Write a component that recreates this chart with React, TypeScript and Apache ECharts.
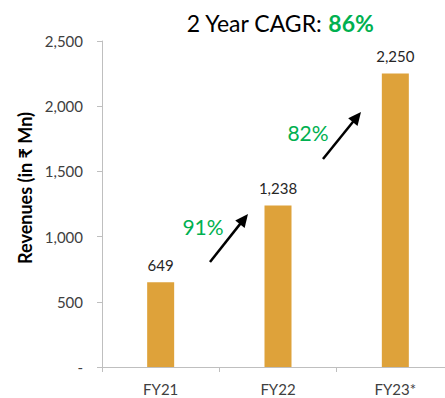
import React, { useEffect, useRef } from "react";
import * as echarts from "echarts";

const categories = ["FY21", "FY22", "FY23*"];
const revenues = [649, 1238, 2250];
const growthLabels = ["91%", "82%"];
const cagrLabel = "86%";
const yAxisTitle = "Revenues (in ₹ Mn)";

const FONT = "Lato, 'Open Sans', sans-serif";

export default function App() {
  const ref = useRef<HTMLDivElement>(null);
  useEffect(() => {
    if (!ref.current) return;
    const chart = echarts.init(ref.current, undefined, { renderer: "svg" });
    const option: any = {
      animation: false,
      textStyle: { fontFamily: FONT },
      title: {
        text: "{a|2 Year CAGR: }{b|" + cagrLabel + "}",
        left: 275,
        textAlign: "center",
        top: 6,
        textStyle: {
          fontWeight: "normal",
          rich: {
            a: { fontSize: 23, color: "#000", fontWeight: "normal", fontFamily: FONT },
            b: { fontSize: 23, color: "#00B050", fontWeight: "bold", fontFamily: FONT },
          },
        },
      },
      grid: { left: 102, right: 6, top: 41, bottom: 31, containLabel: false },
      xAxis: {
        type: "category",
        data: categories,
        axisLine: { lineStyle: { color: "#bfbfbf" } },
        axisTick: { show: true, length: 5, lineStyle: { color: "#bfbfbf" } },
        axisLabel: { color: "#404040", fontSize: 15, margin: 14, fontFamily: FONT },
      },
      yAxis: {
        type: "value",
        min: 0,
        max: 2500,
        interval: 500,
        axisLine: { show: true, lineStyle: { color: "#bfbfbf" } },
        axisTick: { show: true, inside: false, length: 5, lineStyle: { color: "#bfbfbf" } },
        splitLine: { show: false },
        axisLabel: {
          color: "#404040",
          fontSize: 15,
          margin: 19,
          fontFamily: FONT,
          formatter: (v: number) => (v === 0 ? "-" : v.toLocaleString("en-US")),
        },
      },
      series: [
        {
          type: "bar",
          data: revenues,
          barWidth: 27,
          itemStyle: { color: "#DEA23A" },
          label: {
            show: true,
            position: "top",
            distance: 10,
            fontSize: 15,
            color: "#262626",
            fontFamily: FONT,
            formatter: (p: any) => Number(p.value).toLocaleString("en-US"),
          },
        },
      ],
    };
    chart.setOption(option);

    const arrows = [
      { x1: 210, y1: 262, x2: 248, y2: 214, tx: 203, ty: 226, text: growthLabels[0] },
      { x1: 323, y1: 159, x2: 361, y2: 112, tx: 308, ty: 132, text: growthLabels[1] },
    ];
    const elements: any[] = [
      {
        type: "text",
        x: 25,
        y: 188,
        rotation: Math.PI / 2,
        style: {
          text: yAxisTitle,
          fill: "#000",
          fontSize: 18,
          fontWeight: "bold",
          fontFamily: FONT,
          align: "center",
          verticalAlign: "middle",
        },
      },
    ];
    arrows.forEach((a) => {
      const dx = a.x2 - a.x1;
      const dy = a.y2 - a.y1;
      const len = Math.sqrt(dx * dx + dy * dy);
      const ux = dx / len;
      const uy = dy / len;
      const headLen = 13;
      const headW = 6;
      const bx = a.x2 - ux * headLen;
      const by = a.y2 - uy * headLen;
      const px = -uy;
      const py = ux;
      elements.push({
        type: "line",
        shape: { x1: a.x1, y1: a.y1, x2: bx + ux * 2, y2: by + uy * 2 },
        style: { stroke: "#000", lineWidth: 2.5 },
      });
      elements.push({
        type: "polygon",
        shape: {
          points: [
            [a.x2, a.y2],
            [bx + px * headW, by + py * headW],
            [bx - px * headW, by - py * headW],
          ],
        },
        style: { fill: "#000" },
      });
      elements.push({
        type: "text",
        x: a.tx,
        y: a.ty,
        style: {
          text: a.text,
          fill: "#00B050",
          fontSize: 21,
          fontFamily: FONT,
          align: "center",
          verticalAlign: "middle",
        },
      });
    });
    chart.setOption({ graphic: { elements } });

    return () => chart.dispose();
  }, []);
  return (
    <div style={{ position: "fixed", left: 0, top: 0, width: 445, height: 398, overflow: "hidden", background: "#fff" }}>
      <div ref={ref} style={{ width: 460, height: 398 }} />
    </div>
  );
}
